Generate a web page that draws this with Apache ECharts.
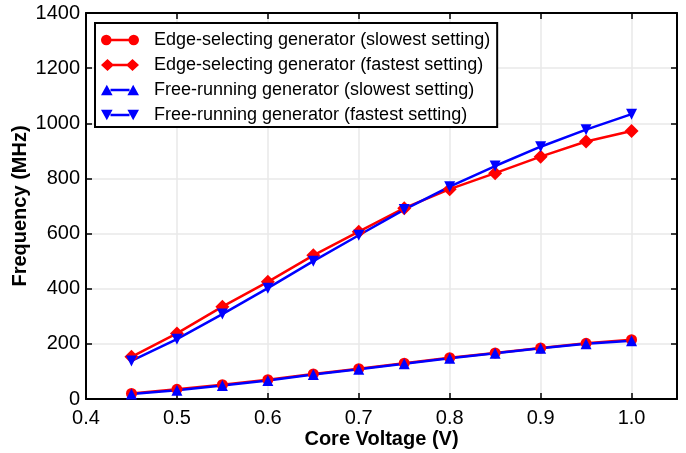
<!DOCTYPE html>
<html>
<head>
<meta charset="utf-8">
<script src="https://cdn.jsdelivr.net/npm/echarts@6/dist/echarts.min.js"></script>
<style>
  html, body { margin: 0; padding: 0; background: #fff; }
  #chart { width: 686px; height: 453px; }
</style>
</head>
<body>
<div id="chart"></div>
<script>
// Core voltage sweep (V)
const voltages = [0.45, 0.5, 0.55, 0.6, 0.65, 0.7, 0.75, 0.8, 0.85, 0.9, 0.95, 1.0];

// Output frequency (MHz) per generator and setting
const edgeSlowest = [20, 35, 52, 70, 91, 110, 130, 150, 167, 185, 202, 215];
const edgeFastest = [153, 238, 335, 425, 521, 607, 692, 761, 819, 879, 934, 972];
const freeSlowest = [18, 32, 49, 67, 89, 108, 128, 148, 166, 184, 200, 211];
const freeFastest = [138, 217, 308, 402, 500, 594, 687, 770, 845, 915, 977, 1033];

const seriesNames = [
  'Edge-selecting generator (slowest setting)',
  'Edge-selecting generator (fastest setting)',
  'Free-running generator (slowest setting)',
  'Free-running generator (fastest setting)'
];

const xTicks = { min: 0.4, max: 1.05, step: 0.1 };
const yTicks = { min: 0, max: 1400, step: 200 };

const RED = '#ff0000';
const BLUE = '#0000ff';
const FONT = '"Liberation Sans", Arial, sans-serif';

// Legend glyphs: a short line with a marker at each end
const iconCircle = 'path://M0,6 A5,5 0 1,1 10,6 A5,5 0 1,1 0,6 Z M9,4.8 L27,4.8 L27,7.2 L9,7.2 Z M26,6 A5,5 0 1,1 36,6 A5,5 0 1,1 26,6 Z';
const iconDiamond = 'path://M0,6 L6.5,0 L13,6 L6.5,12 Z M11,4.8 L27,4.8 L27,7.2 L11,7.2 Z M25,6 L31.5,0 L38,6 L31.5,12 Z';
const iconUp = 'path://M0,11 L5.5,1 L11,11 Z M9,4.8 L27,4.8 L27,7.2 L9,7.2 Z M25,11 L30.5,1 L36,11 Z';
const iconDown = 'path://M0,1 L11,1 L5.5,11 Z M9,4.8 L27,4.8 L27,7.2 L9,7.2 Z M25,1 L36,1 L30.5,11 Z';

function pairs(ys) { return voltages.map((v, i) => [v, ys[i]]); }

function lineSeries(name, ys, color, symbol, size) {
  return {
    name: name,
    type: 'line',
    data: pairs(ys),
    symbol: symbol,
    symbolSize: size,
    showAllSymbol: true,
    lineStyle: { color: color, width: 2.5 },
    itemStyle: { color: color },
    emphasis: { disabled: true },
    z: 3
  };
}

const fmt1 = v => v.toFixed(1);
const fmt0 = v => String(v);

const chart = echarts.init(document.getElementById('chart'), null, { renderer: 'canvas' });
chart.setOption({
  animation: false,
  backgroundColor: '#ffffff',
  textStyle: { fontFamily: FONT },
  grid: { left: 86, right: 9, top: 13, bottom: 54, containLabel: false, outerBoundsMode: 'none' },
  legend: {
    left: 95, top: 23,
    orient: 'vertical',
    backgroundColor: '#ffffff',
    borderColor: '#000000',
    borderWidth: 2,
    borderRadius: 0,
    padding: [8, 7, 3, 6],
    itemWidth: 38,
    itemHeight: 12,
    itemGap: 7,
    textStyle: { fontSize: 18, color: '#000', fontFamily: FONT, padding: [0, 0, 0, 10] },
    data: [
      { name: seriesNames[0], icon: iconCircle },
      { name: seriesNames[1], icon: iconDiamond },
      { name: seriesNames[2], icon: iconUp },
      { name: seriesNames[3], icon: iconDown }
    ],
    selectedMode: false,
    z: 10
  },
  xAxis: [
    {
      type: 'value', min: xTicks.min, max: xTicks.max, interval: xTicks.step,
      name: 'Core Voltage (V)', nameLocation: 'middle', nameGap: 30, nameMoveOverlap: false,
      nameTextStyle: { fontSize: 20, fontWeight: 'bold', color: '#000', fontFamily: FONT },
      axisLine: { show: true, onZero: false, lineStyle: { color: '#000', width: 2 } },
      axisTick: { show: true, inside: true, length: 6, lineStyle: { color: '#000', width: 1.5 } },
      axisLabel: { fontSize: 20, color: '#000', margin: 9, showMaxLabel: false, formatter: fmt1, fontFamily: FONT },
      splitLine: { show: true, lineStyle: { color: '#e8e8e8', width: 1.5 } }
    },
    {
      type: 'value', position: 'top', min: xTicks.min, max: xTicks.max, interval: xTicks.step,
      axisLine: { show: true, onZero: false, lineStyle: { color: '#000', width: 2 } },
      axisTick: { show: true, inside: true, length: 6, lineStyle: { color: '#000', width: 1.5 } },
      axisLabel: { show: false },
      splitLine: { show: false }
    }
  ],
  yAxis: [
    {
      type: 'value', min: yTicks.min, max: yTicks.max, interval: yTicks.step,
      name: 'Frequency (MHz)', nameLocation: 'middle', nameGap: 56, nameMoveOverlap: false,
      nameTextStyle: { fontSize: 20, fontWeight: 'bold', color: '#000', fontFamily: FONT },
      axisLine: { show: true, onZero: false, lineStyle: { color: '#000', width: 2 } },
      axisTick: { show: true, inside: true, length: 6, lineStyle: { color: '#000', width: 1.5 } },
      axisLabel: { fontSize: 20, color: '#000', margin: 6, formatter: fmt0, fontFamily: FONT },
      splitLine: { show: true, lineStyle: { color: '#e8e8e8', width: 1.5 } }
    },
    {
      type: 'value', position: 'right', min: yTicks.min, max: yTicks.max, interval: yTicks.step,
      axisLine: { show: true, onZero: false, lineStyle: { color: '#000', width: 2 } },
      axisTick: { show: true, inside: true, length: 6, lineStyle: { color: '#000', width: 1.5 } },
      axisLabel: { show: false },
      splitLine: { show: false }
    }
  ],
  series: [
    lineSeries(seriesNames[0], edgeSlowest, RED, 'circle', 11),
    lineSeries(seriesNames[1], edgeFastest, RED, 'diamond', 14),
    lineSeries(seriesNames[2], freeSlowest, BLUE, 'triangle', 11),
    lineSeries(seriesNames[3], freeFastest, BLUE, 'path://M0,0 L10,0 L5,10 Z', 11)
  ]
});
</script>
</body>
</html>
